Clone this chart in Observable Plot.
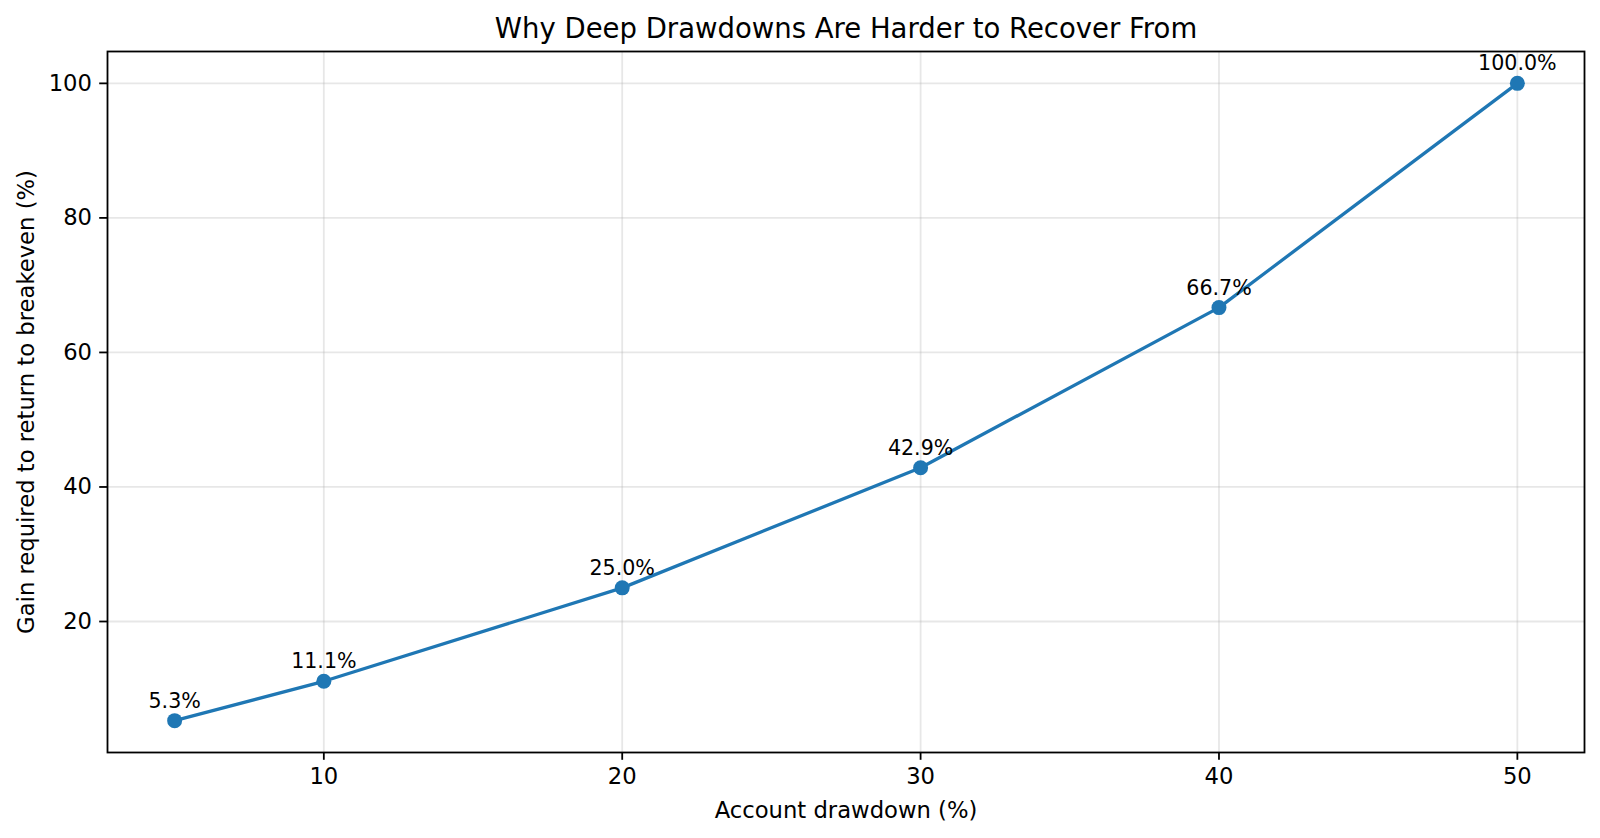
<!DOCTYPE html>
<html>
<head>
<meta charset="utf-8">
<script src="https://cdn.jsdelivr.net/npm/d3@7"></script>
<script src="https://cdn.jsdelivr.net/npm/@observablehq/plot@0.6"></script>
<style>
  html, body { margin: 0; padding: 0; background: #fff; }
  #chart svg { display: block; }
</style>
</head>
<body>
<div id="chart"></div>
<script>
const drawdown = [5, 10, 20, 30, 40, 50];
const gain = [5.263, 11.111, 25.0, 42.857, 66.667, 100.0];
const pointLabels = ["5.3%", "11.1%", "25.0%", "42.9%", "66.7%", "100.0%"];
const xTicks = [10, 20, 30, 40, 50];
const yTicks = [20, 40, 60, 80, 100];
const titleText = "Why Deep Drawdowns Are Harder to Recover From";
const xLabel = "Account drawdown (%)";
const yLabel = "Gain required to return to breakeven (%)";

const data = drawdown.map((d, i) => ({x: d, y: gain[i], label: pointLabels[i]}));
const color = "#1f77b4";
const font = "DejaVu Sans, sans-serif";

const chart = Plot.plot({
  width: 1600,
  height: 838,
  marginLeft: 107,
  marginRight: 16,
  marginTop: 51,
  marginBottom: 86,
  style: {fontFamily: font, color: "#000", background: "#fff"},
  x: {domain: [2.75, 52.25]},
  y: {domain: [0.526, 104.737]},
  marks: [
    Plot.gridX(xTicks, {stroke: "#b0b0b0", strokeOpacity: 0.3, strokeWidth: 1.8}),
    Plot.gridY(yTicks, {stroke: "#b0b0b0", strokeOpacity: 0.3, strokeWidth: 1.8}),
    Plot.axisX(xTicks, {tickSize: 7.8, tickPadding: 7.7, fontSize: 22.7, strokeWidth: 1.8, label: null, tickFormat: d => String(d)}),
    Plot.axisY(yTicks, {tickSize: 7.8, tickPadding: 7.7, fontSize: 22.7, strokeWidth: 1.8, label: null, tickFormat: d => String(d)}),
    Plot.line(data, {x: "x", y: "y", stroke: color, strokeWidth: 3.3}),
    Plot.dot(data, {x: "x", y: "y", r: 7.5, fill: color, stroke: "none"}),
    Plot.text(data, {x: "x", y: "y", text: "label", dy: -13, lineAnchor: "bottom", fontSize: 20.6, fill: "#000"}),
    Plot.frame({stroke: "#000", strokeWidth: 1.8}),
    Plot.text([titleText], {frameAnchor: "top", dy: -13.3, lineAnchor: "bottom", fontSize: 27.5, fill: "#000"}),
    Plot.text([xLabel], {frameAnchor: "bottom", dy: 65, lineAnchor: "bottom", fontSize: 22.7, fill: "#000"}),
    Plot.text([yLabel], {frameAnchor: "left", textAnchor: "middle", dx: -74, rotate: -90, lineAnchor: "bottom", fontSize: 22.7, fill: "#000"})
  ]
});
document.getElementById("chart").appendChild(chart);
</script>
</body>
</html>
